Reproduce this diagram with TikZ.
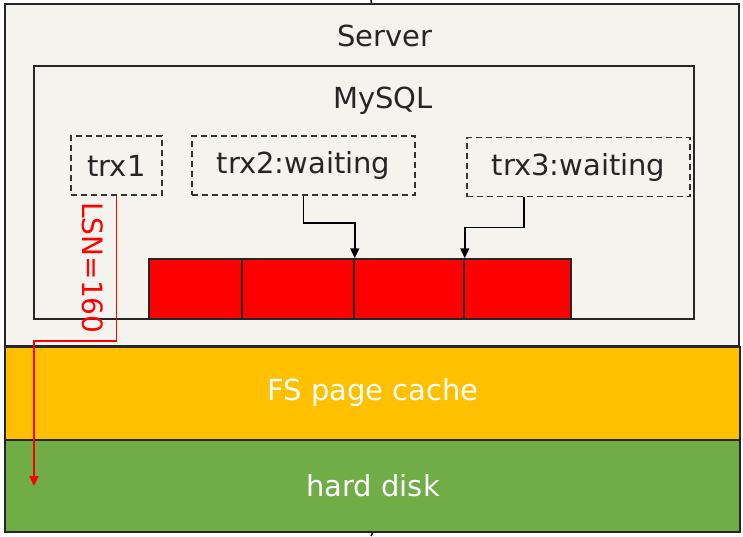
\documentclass[tikz,border=0pt]{standalone}
\usepackage{fontspec}
\setmainfont{DejaVu Sans}
\usetikzlibrary{arrows.meta}
\definecolor{bgc}{HTML}{F4F3EE}
\definecolor{fsc}{HTML}{FFC000}
\definecolor{hdc}{HTML}{70AD47}
\begin{document}
\begin{tikzpicture}[x=1pt,y=-1pt,
  box/.style={draw=black!85,line width=2pt,rectangle,inner sep=0pt},
  trxbox/.style={draw=black!80,dash pattern=on 6pt off 4pt,line width=1.8pt,rectangle,inner sep=0pt,minimum height=59pt,font=\fontsize{29}{32}\selectfont,text=black!85},
  cell/.style={draw=black!85,line width=1.5pt,fill=red,rectangle,inner sep=0pt,minimum height=60pt},
  lbl/.style={font=\fontsize{29}{32}\selectfont,text=black!85},
  band/.style={font=\fontsize{29}{32}\selectfont,text=white},
  arr/.style={line width=1.5pt,-{Triangle[width=9pt,length=10pt]}}]
\useasboundingbox (0,0) rectangle (743,536);
\fill[white] (0,0) rectangle (743,536);
\node[box,fill=bgc,minimum width=734pt,minimum height=342pt] (server) at (371.5,175) {};
\node[box,fill=fsc,minimum width=735pt,minimum height=93pt] (fs) at (372.5,393.5) {};
\node[box,fill=hdc,minimum width=735pt,minimum height=92pt] (hd) at (372.5,486) {};
\node[band] (fstxt) at (373,392) {FS page cache};
\node[band] (hdtxt) at (373,486) {hard disk};
\draw[line width=1.5pt] (371,0) coordinate (tt) -- (server.north);
\draw[line width=1.5pt] (hd.south) -- (371,536) coordinate (bt);
\node[lbl] (servertxt) at (385,36) {Server};
\node[box,minimum width=660pt,minimum height=253pt] (mysql) at (364,192.5) {};
\node[lbl] (mysqltxt) at (383,101) {MySQL};
\node[trxbox,minimum width=91pt] (trx1) at (116.5,165.5) {trx1};
\node[trxbox,minimum width=223pt] (trx2) at (303.5,165.5) {trx2:waiting};
\node[trxbox,minimum width=223pt] (trx3) at (578.5,167) {trx3:waiting};
\node[cell,minimum width=93pt] (c1) at (195.5,289) {};
\node[cell,minimum width=112pt] (c2) at (298,289) {};
\node[cell,minimum width=110pt] (c3) at (409,289) {};
\node[cell,minimum width=107pt] (c4) at (517.5,289) {};
\draw[arr] (trx2.south) -- ++(0,27) -| (c2.north east);
\draw[arr] ([xshift=-54.5pt]trx3.south) -- ++(0,30) -| (c3.north east);
\coordinate (bend) at (34,341);
\coordinate (lsnend) at (34,486);
\draw[arr,red] (trx1.south) |- (bend) -- (lsnend);
\node[red,rotate=-90,font=\fontsize{28}{30}\selectfont] (lsn) at (93,268) {LSN=160};
\end{tikzpicture}
\end{document}
